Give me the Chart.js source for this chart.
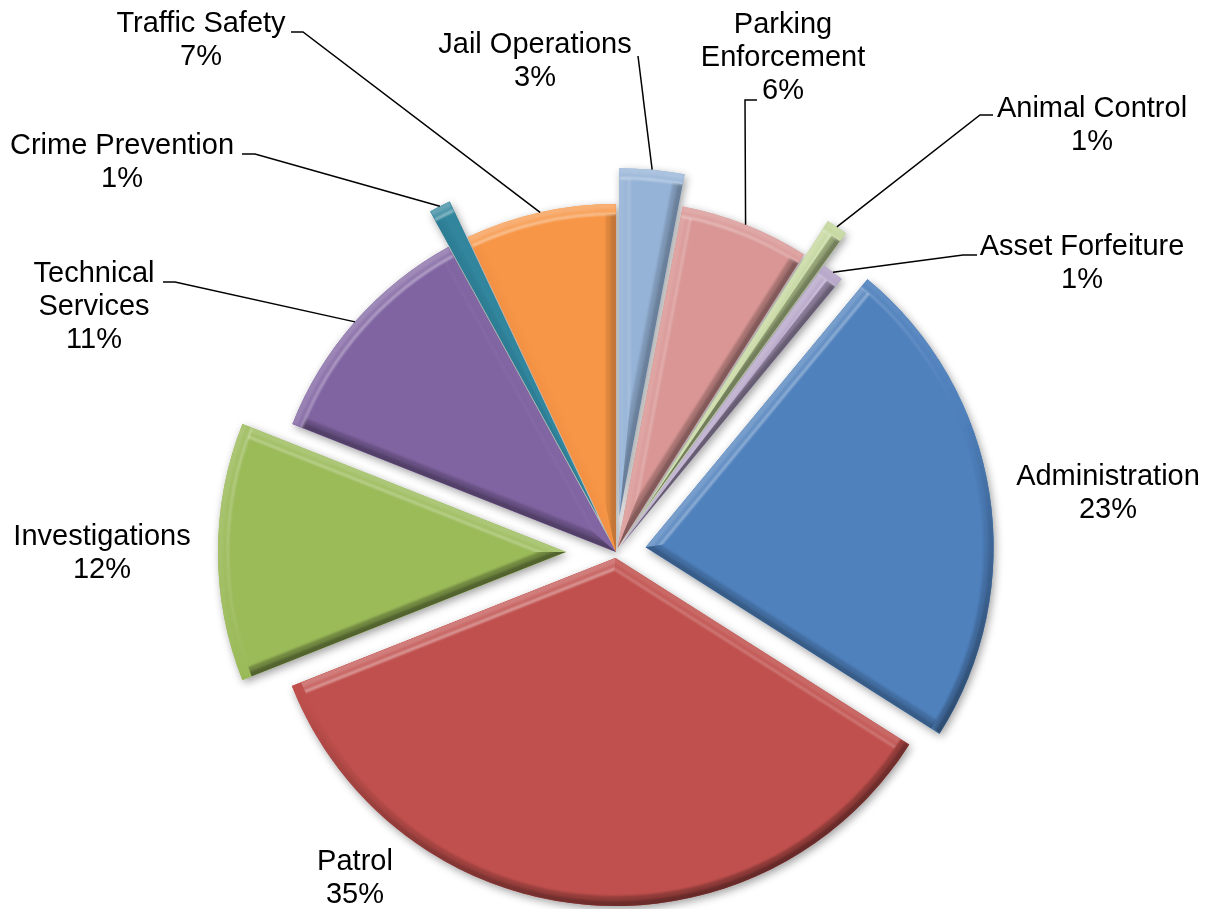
<!DOCTYPE html>
<html>
<head>
<meta charset="utf-8">
<title>Police Department Budget by Division</title>
<script src="https://cdn.jsdelivr.net/npm/chart.js@4.4.1/dist/chart.umd.min.js"></script>
<style>
    html, body { margin: 0; padding: 0; background: #fff; }
    #wrap { width: 1211px; height: 909px; }
</style>
</head>
<body>
<div id="wrap"><canvas id="budget-pie" width="1211" height="909"></canvas></div>
<script>
// ========================================
// Data
// ========================================
const divisions = [
    'Administration', 'Patrol', 'Investigations', 'Technical Services', 'Crime Prevention',
    'Traffic Safety', 'Jail Operations', 'Parking Enforcement', 'Animal Control', 'Asset Forfeiture'
];
const shares = [23, 35, 12, 11, 1, 7, 3, 6, 1, 1];

// ========================================
// Look & layout
// ========================================
const sliceColors = [
    '#4F81BD', '#C0504D', '#9BBB59', '#8064A2', '#31859C',
    '#F79646', '#95B3D7', '#D99694', '#C3D69B', '#B3A2C7'
];
// how far each slice is pulled out of the pie, px
const explode = [30, 6, 50, 0, 40, 0, 36, 4, 45, 6];
// two-line names
const wrapped = {
    'Technical Services': ['Technical', 'Services'],
    'Parking Enforcement': ['Parking', 'Enforcement']
};
// label block: centre x, first baseline y
const labelSpots = [
    [1108, 485], [355, 870], [102, 545], [94, 282], [122, 154],
    [201, 32], [535, 53], [783, 33], [1092, 117], [1082, 255]
];
// leader line start + elbow (null = no leader)
const leaders = [
    null, null, null,
    [[163, 282], [175, 282]],
    [[242, 154], [255, 154]],
    [[291, 32], [303, 32]],
    [[638, 56], [638, 56]],
    [[757, 100], [745, 100]],
    [[993, 115], [980, 115]],
    [[977, 255], [963, 255]]
];

const FONT = '29px "Liberation Sans", Arial, sans-serif';
const LINE_H = 33;
const BEVEL = 10;

const light = (() => {
    const x = -0.4, y = -0.92, m = Math.hypot(x, y);
    return { x: x / m, y: y / m };
})();

// half-strength shade; drawn twice on the outer part of the bevel
function tone(d) {
    return d >= 0
        ? `rgba(255,255,255,${(0.14 * d).toFixed(3)})`
        : `rgba(0,0,0,${(0.27 * -d).toFixed(3)})`;
}

function sheen(d) {
    return `rgba(255,255,255,${(0.5 * Math.max(d, 0)).toFixed(3)})`;
}

function wedge(ctx, x, y, r, from, to) {
    ctx.beginPath();
    ctx.moveTo(x, y);
    ctx.arc(x, y, r, from, to);
    ctx.closePath();
}

// ========================================
// Plugins
// ========================================
const explodePlugin = {
    id: 'explode',
    afterDatasetsUpdate(chart) {
        chart.getDatasetMeta(0).data.forEach((arc, i) => {
            const mid = (arc.startAngle + arc.endAngle) / 2;
            arc.x += Math.cos(mid) * explode[i];
            arc.y += Math.sin(mid) * explode[i];
        });
    }
};

const shadowPlugin = {
    id: 'sliceShadow',
    beforeDatasetsDraw(chart) {
        const ctx = chart.ctx;
        chart.getDatasetMeta(0).data.forEach((arc, i) => {
            ctx.save();
            ctx.shadowColor = 'rgba(0,0,0,0.38)';
            ctx.shadowBlur = 9;
            ctx.shadowOffsetX = 2;
            ctx.shadowOffsetY = 3;
            ctx.fillStyle = sliceColors[i];
            wedge(ctx, arc.x, arc.y, arc.outerRadius, arc.startAngle, arc.endAngle);
            ctx.fill();
            ctx.restore();
        });
    }
};

function drawBevel(ctx, arc) {
    const { x, y, startAngle: s, endAngle: e, outerRadius: R } = arc;
    const mid = (s + e) / 2;
    const b = BEVEL;

    ctx.save();
    wedge(ctx, x, y, R, s, e);
    ctx.clip();
    ctx.filter = 'blur(1.2px)';

    // straight sides, split on the bisector so thin slices form a ridge
    [[s, s, mid, 1], [e, mid, e, -1]].forEach(([edge, from, to, sgn]) => {
        const nx = sgn * Math.sin(edge), ny = -sgn * Math.cos(edge);
        const dx = Math.cos(edge), dy = Math.sin(edge);
        const d = nx * light.x + ny * light.y;
        ctx.save();
        wedge(ctx, x, y, R - b, from, to);
        ctx.clip();
        [b * 2, b].forEach(w => {
            ctx.beginPath();
            ctx.moveTo(x - dx * 30, y - dy * 30);
            ctx.lineTo(x + dx * (R + 30), y + dy * (R + 30));
            ctx.lineWidth = w;
            ctx.strokeStyle = tone(d);
            ctx.stroke();
        });
        if (d > 0) {
            ctx.beginPath();
            ctx.moveTo(x - nx * b - dx * 30, y - ny * b - dy * 30);
            ctx.lineTo(x - nx * b + dx * (R + 30), y - ny * b + dy * (R + 30));
            ctx.lineWidth = 2;
            ctx.strokeStyle = sheen(d);
            ctx.stroke();
        }
        ctx.restore();
    });

    // rounded rim
    const rim = ctx.createConicGradient(0, x, y);
    const glint = ctx.createConicGradient(0, x, y);
    for (let k = 0; k <= 72; k++) {
        const t = k / 72 * Math.PI * 2;
        const d = Math.cos(t) * light.x + Math.sin(t) * light.y;
        rim.addColorStop(k / 72, tone(d));
        glint.addColorStop(k / 72, sheen(d));
    }
    [b, b / 2].forEach(w => {
        ctx.beginPath();
        ctx.arc(x, y, R + 4, s, e);
        ctx.arc(x, y, R - w, e, s, true);
        ctx.closePath();
        ctx.fillStyle = rim;
        ctx.fill();
    });

    ctx.beginPath();
    ctx.arc(x, y, R - b, s, e);
    ctx.lineWidth = 2;
    ctx.strokeStyle = glint;
    ctx.stroke();

    ctx.restore();
}

const bevelPlugin = {
    id: 'bevel',
    afterDatasetsDraw(chart) {
        chart.getDatasetMeta(0).data.forEach(arc => drawBevel(chart.ctx, arc));
    }
};

const labelPlugin = {
    id: 'sliceLabels',
    afterDraw(chart) {
        const ctx = chart.ctx;
        const arcs = chart.getDatasetMeta(0).data;
        ctx.save();
        ctx.font = FONT;
        ctx.fillStyle = '#000';
        ctx.textAlign = 'center';
        ctx.textBaseline = 'alphabetic';
        divisions.forEach((name, i) => {
            const lines = (wrapped[name] || [name]).concat(shares[i] + '%');
            const [cx, y0] = labelSpots[i];
            lines.forEach((txt, k) => ctx.fillText(txt, cx, y0 + k * LINE_H));

            const lead = leaders[i];
            if (!lead) return;
            const arc = arcs[i];
            const mid = (arc.startAngle + arc.endAngle) / 2;
            const ex = arc.x + Math.cos(mid) * arc.outerRadius;
            const ey = arc.y + Math.sin(mid) * arc.outerRadius;
            ctx.beginPath();
            ctx.moveTo(lead[0][0], lead[0][1]);
            ctx.lineTo(lead[1][0], lead[1][1]);
            ctx.lineTo(ex, ey);
            ctx.lineWidth = 1.5;
            ctx.strokeStyle = '#000';
            ctx.stroke();
        });
        ctx.restore();
    }
};

// ========================================
// Chart
// ========================================
new Chart(document.getElementById('budget-pie'), {
    type: 'pie',
    data: {
        labels: divisions,
        datasets: [{
            data: shares,
            backgroundColor: sliceColors,
            borderWidth: 0,
            radius: 348,
            clip: false
        }]
    },
    options: {
        responsive: false,
        animation: false,
        events: [],
        rotation: 39.6,
        layout: { padding: { left: 21, right: 0, top: 195, bottom: 0 } },
        plugins: {
            legend: { display: false },
            tooltip: { enabled: false }
        }
    },
    plugins: [explodePlugin, shadowPlugin, bevelPlugin, labelPlugin]
});
</script>
</body>
</html>
